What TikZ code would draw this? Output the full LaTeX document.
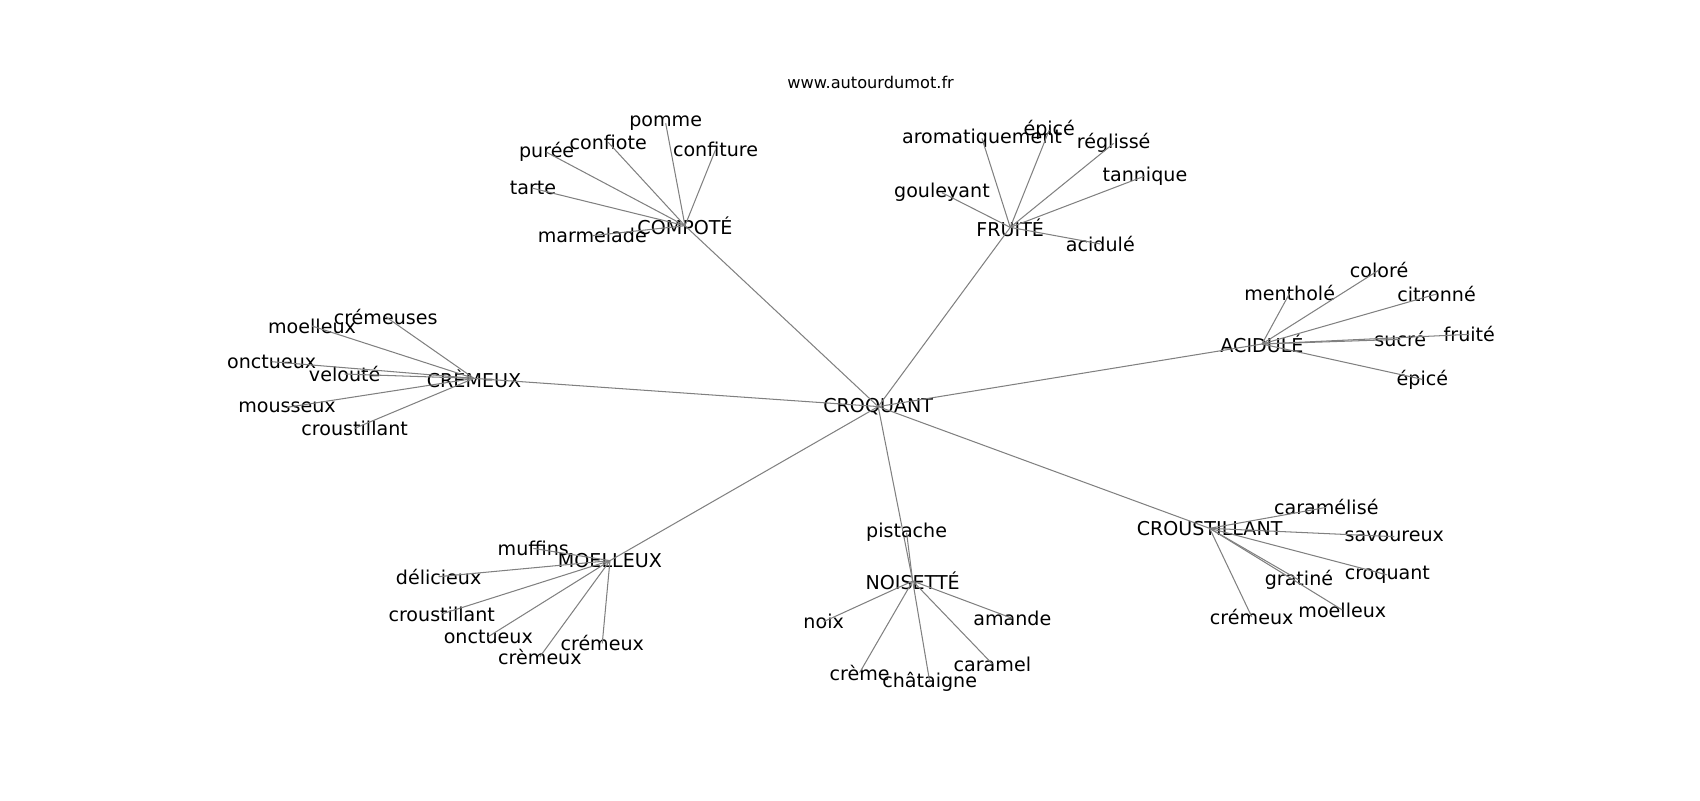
\documentclass[tikz,border=0pt]{standalone}
\usepackage{fontspec}
\setmainfont{DejaVu Sans}
\usepackage{tikz}
\usetikzlibrary{positioning}
\definecolor{mygray}{HTML}{808080}

\begin{document}
\begin{tikzpicture}[x=0.02754cm,y=-0.02754cm]
	\tikzstyle{link} = [mygray, line width=0.75pt]
	\tikzstyle{word} = [inner sep=0, text=black, font=\fontsize{13.8}{16}\selectfont]
	\tikzstyle{title} = [inner sep=0, text=black, font=\fontsize{11.7}{14}\selectfont]
	\useasboundingbox (0,0) rectangle (1568,738);
	
	\node [title] (web) at (803,76) {www.autourdumot.fr};
	
	\node [word] (c0) at (810,375) {CROQUANT};
	\node [word] (h1) at (631.8,208.2) {COMPOTÉ};
	\node [word] (h2) at (931.8,209.7) {FRUITÉ};
	\node [word] (h3) at (1164,317.3) {ACIDULÉ};
	\node [word] (h4) at (437.2,349) {CRÈMEUX};
	\node [word] (h5) at (562.6,517.1) {MOELLEUX};
	\node [word] (h6) at (841.8,535.9) {NOISETTÉ};
	\node [word] (h7) at (1115.7,487.3) {CROUSTILLANT};
	
	\foreach \h in {h1,h2,h3,h4,h5,h6,h7}
		\draw [link] (c0.center) edge (\h.center);
	
	% compote
	\node [word] (a1) at (614,113.7) {pomme};
	\node [word] (a2) at (561,131.3) {confiote};
	\node [word] (a3) at (504.2,140.5) {purée};
	\node [word] (a4) at (660,138) {confiture};
	\node [word] (a5) at (491.6,173.7) {tarte};
	\node [word] (a6) at (546.3,217.4) {marmelade};
	\foreach \i in {a1,a2,a3,a4,a5,a6}
		\draw [link] (h1.center) edge (\i.center);
	
	% fruite
	\node [word] (b1) at (905.7,127.6) {aromatiquement};
	\node [word] (b2) at (967.8,119.9) {épicé};
	\node [word] (b3) at (1027.2,132.2) {réglissé};
	\node [word] (b4) at (1056,162.3) {tannique};
	\node [word] (b5) at (868.8,177.7) {gouleyant};
	\node [word] (b6) at (1014.9,225) {acidulé};
	\foreach \i in {b1,b2,b3,b4,b5,b6}
		\draw [link] (h2.center) edge (\i.center);
	
	% acidule
	\node [word] (d1) at (1189.5,270.5) {mentholé};
	\node [word] (d2) at (1272,249) {coloré};
	\node [word] (d3) at (1325,271.2) {citronné};
	\node [word] (d4) at (1291.6,313) {sucré};
	\node [word] (d5) at (1355.2,308.4) {fruité};
	\node [word] (d6) at (1311.9,349.9) {épicé};
	\foreach \i in {d1,d2,d3,d4,d5,d6}
		\draw [link] (h3.center) edge (\i.center);
	
	% cremeux
	\node [word] (e1) at (355.7,292.1) {crémeuses};
	\node [word] (e2) at (287.8,300.7) {moelleux};
	\node [word] (e3) at (250.6,333.6) {onctueux};
	\node [word] (e4) at (317.9,345) {velouté};
	\node [word] (e5) at (264.7,375.7) {mousseux};
	\node [word] (e6) at (327.1,395.1) {croustillant};
	\foreach \i in {e1,e2,e3,e4,e5,e6}
		\draw [link] (h4.center) edge (\i.center);
	
	% moelleux
	\node [word] (f1) at (491.9,505.8) {muffins};
	\node [word] (f2) at (404.6,531.9) {délicieux};
	\node [word] (f3) at (407.4,566.3) {croustillant};
	\node [word] (f4) at (450.4,587.2) {onctueux};
	\node [word] (f5) at (498,605.7) {crèmeux};
	\node [word] (f6) at (555.5,593.4) {crémeux};
	\foreach \i in {f1,f2,f3,f4,f5,f6}
		\draw [link] (h5.center) edge (\i.center);
	
	% noisette
	\node [word] (g1) at (836.2,491.3) {pistache};
	\node [word] (g2) at (759.7,573.4) {noix};
	\node [word] (g3) at (933.7,570.3) {amande};
	\node [word] (g4) at (792.9,620.4) {crème};
	\node [word] (g5) at (857.5,628.7) {châtaigne};
	\node [word] (g6) at (915.3,612.4) {caramel};
	\foreach \i in {g1,g2,g3,g4,g5,g6}
		\draw [link] (h6.center) edge (\i.center);
	
	% croustillant
	\node [word] (k1) at (1223.3,468) {caramélisé};
	\node [word] (k2) at (1286,495) {savoureux};
	\node [word] (k3) at (1279.6,530.3) {croquant};
	\node [word] (k4) at (1198.1,535) {gratiné};
	\node [word] (k5) at (1238.1,562.6) {moelleux};
	\node [word] (k6) at (1154.5,568.8) {crémeux};
	\foreach \i in {k1,k2,k3,k4,k5,k6}
		\draw [link] (h7.center) edge (\i.center);
\end{tikzpicture}
\end{document}
